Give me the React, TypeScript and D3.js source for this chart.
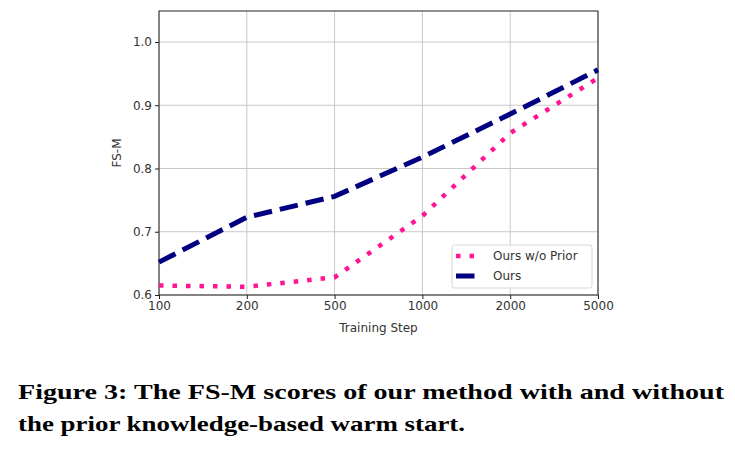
import { useRef, useEffect } from 'react';
import * as d3 from 'd3';

const steps = ['100', '200', '500', '1000', '2000', '5000'];
const oursWoPrior = [0.615, 0.613, 0.628, 0.725, 0.856, 0.943];
const ours = [0.652, 0.723, 0.756, 0.818, 0.886, 0.956];
const yTicks = [0.6, 0.7, 0.8, 0.9, 1.0];
const captionLines = [
  'Figure 3: The FS-M scores of our method with and without',
  'the prior knowledge-based warm start.',
];

function App() {
  const svgRef = useRef<SVGSVGElement>(null);

  useEffect(() => {
    const width = 735;
    const height = 452;
    const margin = { top: 11, left: 159, right: 137, bottom: 157 };
    const innerWidth = width - margin.left - margin.right;
    const innerHeight = height - margin.top - margin.bottom;

    const root = d3.select(svgRef.current);
    root.selectAll('*').remove();
    root.attr('width', width).attr('height', height);

    const svg = root.append('g').attr('transform', `translate(${margin.left},${margin.top})`);

    const x = d3.scalePoint().domain(steps).range([0, innerWidth]);
    const y = d3.scaleLinear().domain([0.6, 1.049]).range([innerHeight, 0]);

    // grid
    svg.append('g')
      .selectAll('line.gx')
      .data(steps)
      .enter()
      .append('line')
      .attr('x1', d => x(d)!)
      .attr('x2', d => x(d)!)
      .attr('y1', 0)
      .attr('y2', innerHeight)
      .attr('stroke', '#c8c8c8')
      .attr('stroke-width', 1);
    svg.append('g')
      .selectAll('line.gy')
      .data(yTicks)
      .enter()
      .append('line')
      .attr('x1', 0)
      .attr('x2', innerWidth)
      .attr('y1', d => y(d))
      .attr('y2', d => y(d))
      .attr('stroke', '#c8c8c8')
      .attr('stroke-width', 1);

    const font = 'DejaVu Sans, sans-serif';
    const fs = 12;

    const xAxis = svg.append('g')
      .attr('transform', `translate(0,${innerHeight})`)
      .call(d3.axisBottom(x).tickSizeOuter(0).tickSize(4).tickPadding(2));
    const yAxis = svg.append('g')
      .call(d3.axisLeft(y).tickValues(yTicks).tickFormat(d3.format('.1f')).tickSizeOuter(0).tickSize(4).tickPadding(3));
    [xAxis, yAxis].forEach(a => {
      a.select('.domain').remove();
      a.selectAll('line').attr('stroke', '#222');
      a.selectAll('text').attr('font-family', font).attr('font-size', fs).attr('fill', '#333');
    });

    // frame
    svg.append('rect')
      .attr('width', innerWidth)
      .attr('height', innerHeight)
      .attr('fill', 'none')
      .attr('stroke', '#222')
      .attr('stroke-width', 1);

    const line = d3.line<number>()
      .x((_, i) => x(steps[i])!)
      .y(d => y(d));

    svg.append('path')
      .datum(ours)
      .attr('d', line)
      .attr('fill', 'none')
      .attr('stroke', '#000080')
      .attr('stroke-width', 5)
      .attr('stroke-dasharray', '18.5,8');

    svg.append('path')
      .datum(oursWoPrior)
      .attr('d', line)
      .attr('fill', 'none')
      .attr('stroke', '#ff1493')
      .attr('stroke-width', 4.5)
      .attr('stroke-dasharray', '4.5,9');

    // axis labels
    svg.append('text')
      .attr('x', innerWidth / 2)
      .attr('y', innerHeight + 37)
      .attr('text-anchor', 'middle')
      .attr('font-family', font)
      .attr('font-size', fs)
      .attr('fill', '#333')
      .text('Training Step');
    svg.append('text')
      .attr('transform', `translate(${-38},${innerHeight / 2}) rotate(-90)`)
      .attr('text-anchor', 'middle')
      .attr('font-family', font)
      .attr('font-size', fs)
      .attr('fill', '#333')
      .text('FS-M');

    // legend
    const lg = svg.append('g').attr('transform', `translate(${innerWidth - 146},${innerHeight - 50})`);
    lg.append('rect')
      .attr('width', 140)
      .attr('height', 43)
      .attr('rx', 2.5)
      .attr('fill', 'white')
      .attr('fill-opacity', 0.85)
      .attr('stroke', '#d6d6d6');
    const entries = [
      { label: 'Ours w/o Prior', color: '#ff1493', dash: '4.5,9', w: 4.5 },
      { label: 'Ours', color: '#000080', dash: '18.5,8', w: 5 },
    ];
    entries.forEach((e, i) => {
      const cy = 11 + i * 20;
      lg.append('line')
        .attr('x1', 4)
        .attr('x2', 26)
        .attr('y1', cy)
        .attr('y2', cy)
        .attr('stroke', e.color)
        .attr('stroke-width', e.w)
        .attr('stroke-dasharray', e.dash);
      lg.append('text')
        .attr('x', 41)
        .attr('y', cy + 4)
        .attr('font-family', font)
        .attr('font-size', fs)
        .attr('fill', '#333')
        .text(e.label);
    });

    // caption
    root.append('g')
      .selectAll('text')
      .data(captionLines)
      .enter()
      .append('text')
      .attr('x', 18)
      .attr('y', (_, i) => 399 + i * 32)
      .attr('font-family', 'Liberation Serif, serif')
      .attr('font-weight', 'bold')
      .attr('font-size', 22)
      .attr('fill', '#000')
      .attr('textLength', (_, i) => (i === 0 ? 706 : 447))
      .attr('lengthAdjust', 'spacingAndGlyphs')
      .text(d => d);
  }, []);

  return (
    <div style={{ position: 'absolute', left: 0, top: 0 }}>
      <svg ref={svgRef}></svg>
    </div>
  );
}

export default App;
